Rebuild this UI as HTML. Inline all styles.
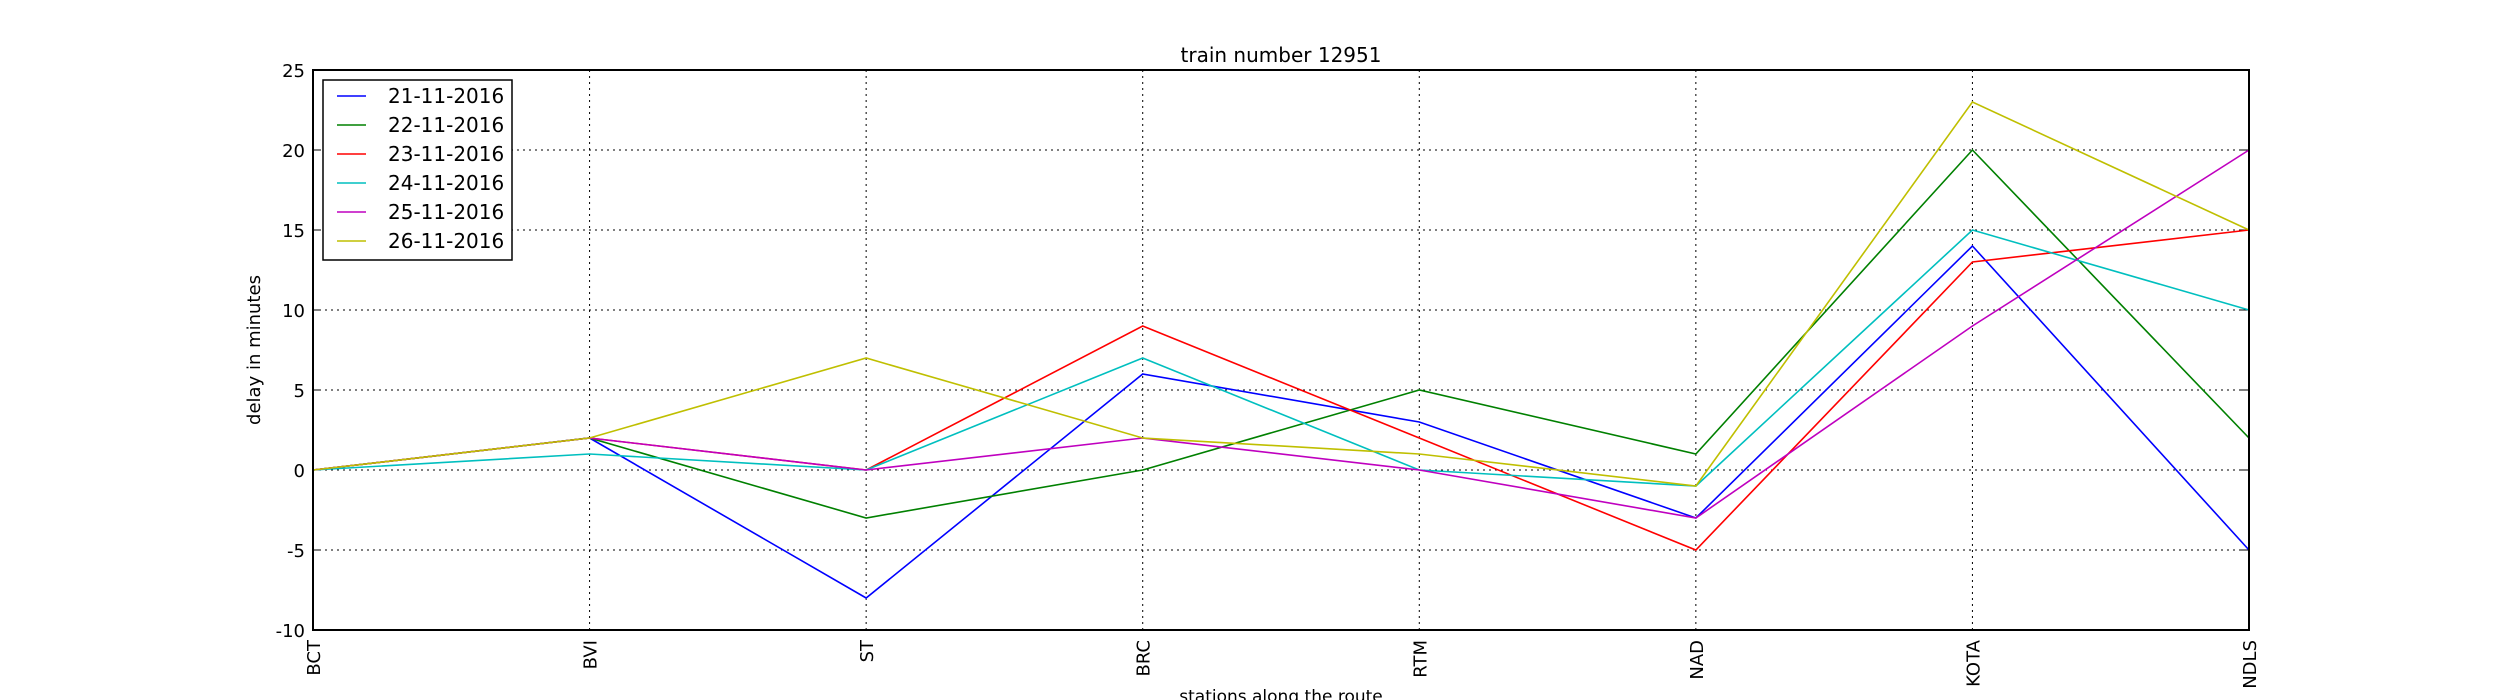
<!DOCTYPE html>
<html><head><meta charset="utf-8"><style>
body{margin:0;background:#fff}
svg{display:block;font-family:"DejaVu Sans","Liberation Sans",sans-serif}
</style></head><body>
<svg id="chart" width="2500" height="700" viewBox="0 0 2500 700"></svg>
<script>
const stations=["BCT","BVI","ST","BRC","RTM","NAD","KOTA","NDLS"];
const dates=["21-11-2016","22-11-2016","23-11-2016","24-11-2016","25-11-2016","26-11-2016"];
const s21=[0,2,-8,6,3,-3,14,-5];
const s22=[0,2,-3,0,5,1,20,2];
const s23=[0,2,0,9,2,-5,13,15];
const s24=[0,1,0,7,0,-1,15,10];
const s25=[0,2,0,2,0,-3,9,20];
const s26=[0,2,7,2,1,-1,23,15];
const yTicks=[-10,-5,0,5,10,15,20,25];
const series=[s21,s22,s23,s24,s25,s26];
const colors=["#0000ff","#008000","#ff0000","#00bfbf","#bf00bf","#bfbf00"];
const L=313,R=2249,T=70,B=630,yMin=-10,yMax=25;
const NS="http://www.w3.org/2000/svg";
const svg=document.getElementById('chart');
const x=i=>L+(R-L)*i/(stations.length-1);
const y=v=>B-(v-yMin)/(yMax-yMin)*(B-T);
function mk(t,a,p){const e=document.createElementNS(NS,t);for(const k in a)e.setAttribute(k,a[k]);(p||svg).appendChild(e);return e;}
yTicks.forEach(v=>{
 const g=mk('line',{x1:L,x2:R,y1:y(v),y2:y(v),stroke:'#000','stroke-width':1,'stroke-dasharray':'2,4'});
 
 
 mk('line',{x1:L,x2:L+8,y1:y(v),y2:y(v),stroke:'#000'});
 mk('line',{x1:R,x2:R-8,y1:y(v),y2:y(v),stroke:'#000'});
 const t=mk('text',{x:L-8,y:y(v)+7,'text-anchor':'end','font-size':18});
 t.textContent=v;
 
 
});
stations.forEach((s,i)=>{
 const g=mk('line',{x1:x(i),x2:x(i),y1:T,y2:B,stroke:'#000','stroke-width':1,'stroke-dasharray':'2,4'});
 
 
 const t=mk('text',{x:0,y:0,'text-anchor':'end','font-size':18,transform:`translate(${x(i)+7},${B+10}) rotate(-90)`});
 t.textContent=s;
 
 
});
series.forEach((d,k)=>{
 const p=mk('polyline',{points:d.map((v,i)=>x(i)+','+y(v)).join(' '),fill:'none',stroke:colors[k],'stroke-width':1.6});
 
 
});
const fr=mk('rect',{x:L,y:T,width:R-L,height:B-T,fill:'none',stroke:'#000','stroke-width':2});


const lg=mk('g',{});


mk('rect',{x:323,y:80,width:189,height:180,fill:'#fff',stroke:'#000','stroke-width':1.5},lg);
dates.forEach((d,k)=>{
 const yy=96+k*29;
 mk('line',{x1:337,x2:366,y1:yy,y2:yy,stroke:colors[k],'stroke-width':1.6},lg);
 const t=mk('text',{x:388,y:yy+7,'font-size':20},lg);
 t.textContent=d;
 
 
});
const ti=mk('text',{x:(L+R)/2,y:62,'text-anchor':'middle','font-size':20});ti.textContent='train number 12951';


const xl=mk('text',{x:(L+R)/2,y:702,'text-anchor':'middle','font-size':17});xl.textContent='stations along the route';


const yl=mk('text',{x:0,y:0,'text-anchor':'middle','font-size':18,transform:`translate(260,${(T+B)/2}) rotate(-90)`});yl.textContent='delay in minutes';


</script>
</body></html>
